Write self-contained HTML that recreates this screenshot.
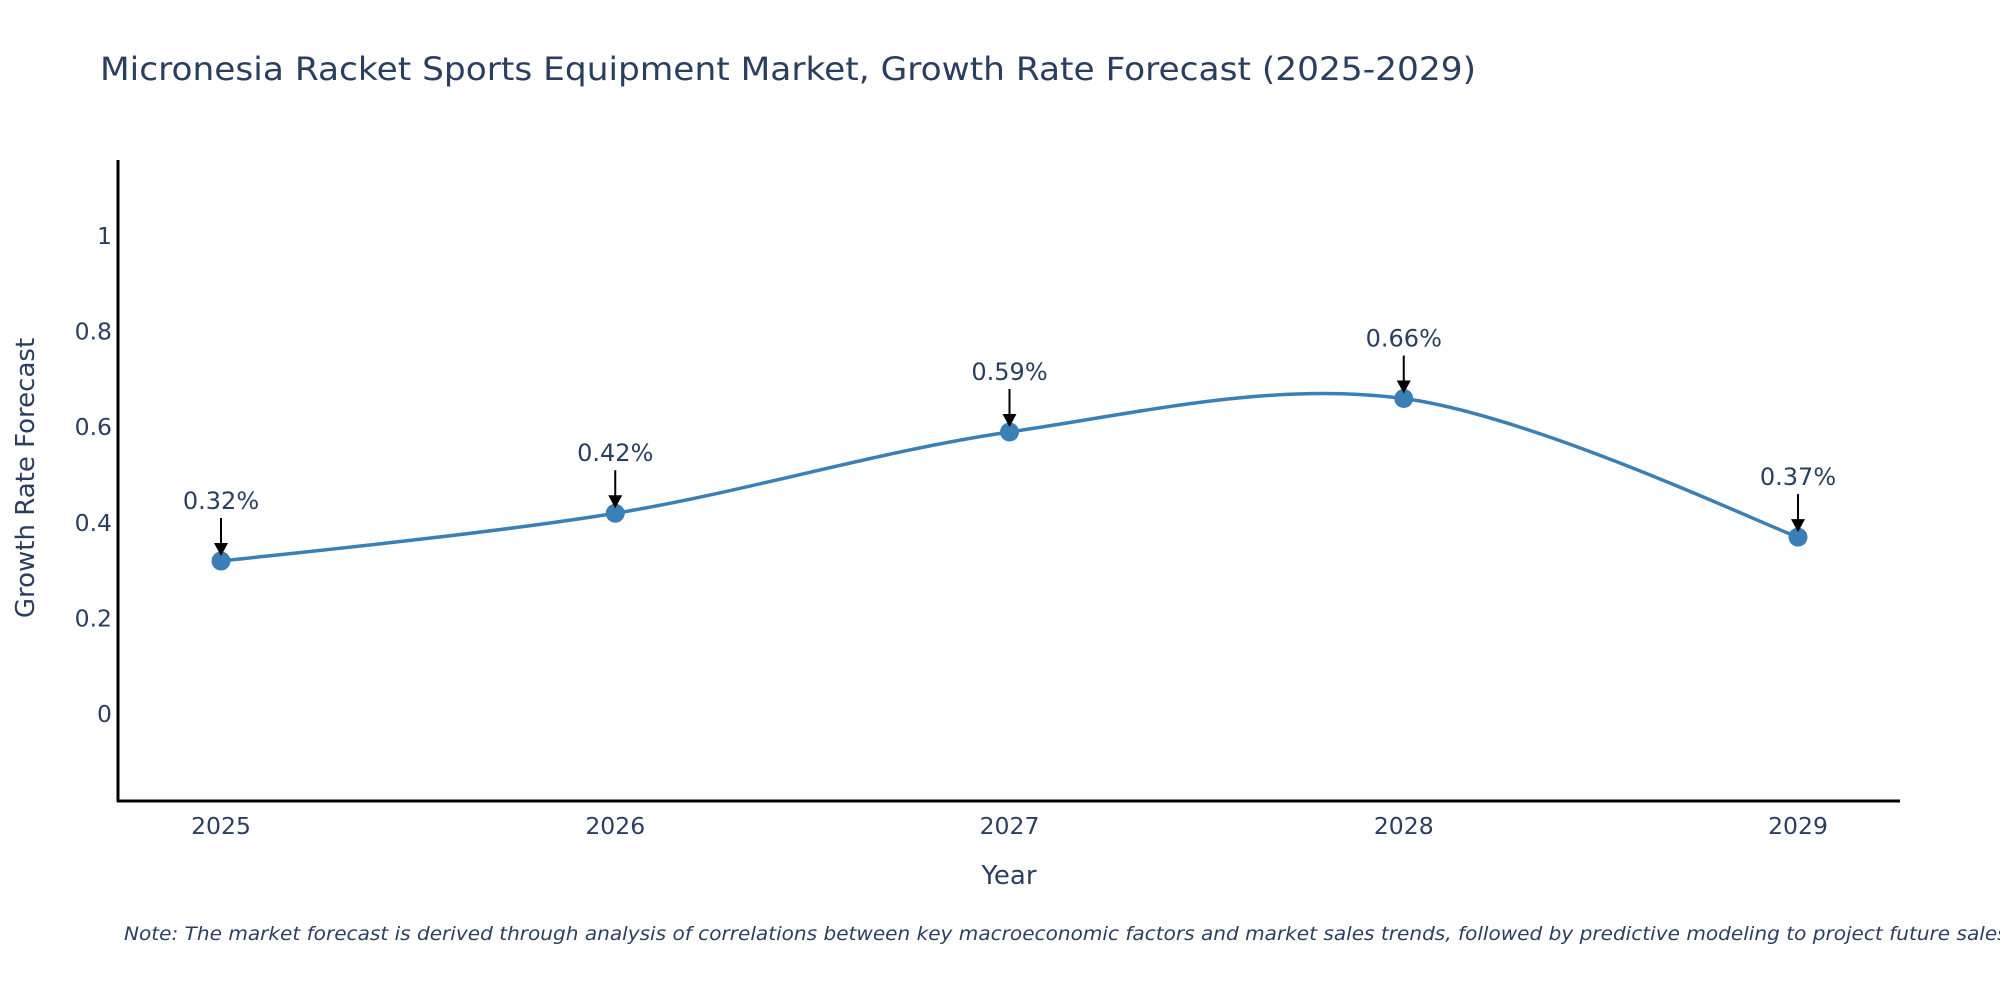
<!DOCTYPE html>
<html><head><meta charset="utf-8"><style>
html,body{margin:0;padding:0;background:#fff;}
svg text{font-family:"DejaVu Sans","Liberation Sans",sans-serif;fill:#2a3f5f;}
</style></head><body>
<svg id="chart" width="2000" height="1000" viewBox="0 0 2000 1000">
<text x="100" y="80" font-size="32" textLength="1376" lengthAdjust="spacingAndGlyphs">Micronesia Racket Sports Equipment Market, Growth Rate Forecast (2025-2029)</text>
<g id="yticks"></g>
<g id="xticks"></g>
<line x1="118" y1="160" x2="118" y2="802" stroke="#000" stroke-width="3"/>
<line x1="117" y1="801" x2="1900" y2="801" stroke="#000" stroke-width="3"/>
<text transform="translate(34,478) rotate(-90)" text-anchor="middle" font-size="26">Growth Rate Forecast</text>
<text x="1009" y="884" text-anchor="middle" font-size="26">Year</text>
<path id="curve" fill="none" stroke="#3a7fb5" stroke-width="3.5"/>
<g id="points"></g>
<g id="annots"></g>
<text x="124" y="940" font-size="19" font-style="italic" textLength="1890" lengthAdjust="spacingAndGlyphs">Note: The market forecast is derived through analysis of correlations between key macroeconomic factors and market sales trends, followed by predictive modeling to project future sales.</text>
</svg>
<script>
const years = [2025, 2026, 2027, 2028, 2029];
const values = [0.32, 0.42, 0.59, 0.66, 0.37];
const labels = ["0.32%", "0.42%", "0.59%", "0.66%", "0.37%"];
const yTicks = [0, 0.2, 0.4, 0.6, 0.8, 1];
const yTickLabels = ["0", "0.2", "0.4", "0.6", "0.8", "1"];

const NS = "http://www.w3.org/2000/svg";
function X(yr){ return 221 + (yr - 2025) * 394.25; }
function Y(v){ return 714 - 478 * v; }
function mk(tag, attrs, parent){ const e=document.createElementNS(NS,tag); for(const k in attrs) e.setAttribute(k,attrs[k]); parent.appendChild(e); return e; }

const yg=document.getElementById('yticks');
yTicks.forEach((t,i)=>{
  const e=mk('text',{x:112,y:Y(t)+8,'text-anchor':'end','font-size':23.5},yg);
  e.textContent=yTickLabels[i];
  
  
});
const xg=document.getElementById('xticks');
years.forEach(yr=>{
  const e=mk('text',{x:X(yr),y:834,'text-anchor':'middle','font-size':23.5},xg);
  e.textContent=String(yr);
  
  
});

const pts=years.map((yr,i)=>[X(yr),Y(values[i])]);
let d=`M${pts[0][0]},${pts[0][1]}`;
const tension=0.5;
for(let i=0;i<pts.length-1;i++){
  const p0=pts[Math.max(0,i-1)],p1=pts[i],p2=pts[i+1],p3=pts[Math.min(pts.length-1,i+2)];
  const c1=[p1[0]+(p2[0]-p0[0])*tension/3*(i===0?0.5:1), p1[1]+(p2[1]-p0[1])*tension/3*(i===0?0.5:1)];
  const last=(i+2>pts.length-1);
  const c2=[p2[0]-(p3[0]-p1[0])*tension/3*(last?0.5:1), p2[1]-(p3[1]-p1[1])*tension/3*(last?0.5:1)];
  d+=` C${c1[0]},${c1[1]} ${c2[0]},${c2[1]} ${p2[0]},${p2[1]}`;
}
document.getElementById('curve').setAttribute('d',d);

const pg=document.getElementById('points'), ag=document.getElementById('annots');
pts.forEach((p,i)=>{
  const c=mk('circle',{cx:p[0],cy:p[1],r:9.5,fill:'#3a7fb5'},pg);
  
  
  const a=mk('line',{x1:p[0],y1:p[1]-43,x2:p[0],y2:p[1]-16,stroke:'#000','stroke-width':2},ag);
  
  
  const h=mk('path',{d:`M${p[0]-7},${p[1]-18} L${p[0]+7},${p[1]-18} L${p[0]},${p[1]-5} Z`,fill:'#000'},ag);
  
  
  const t=mk('text',{x:p[0],y:p[1]-52,'text-anchor':'middle','font-size':24},ag);
  t.textContent=labels[i];
  
  
});
</script>
</body></html>
